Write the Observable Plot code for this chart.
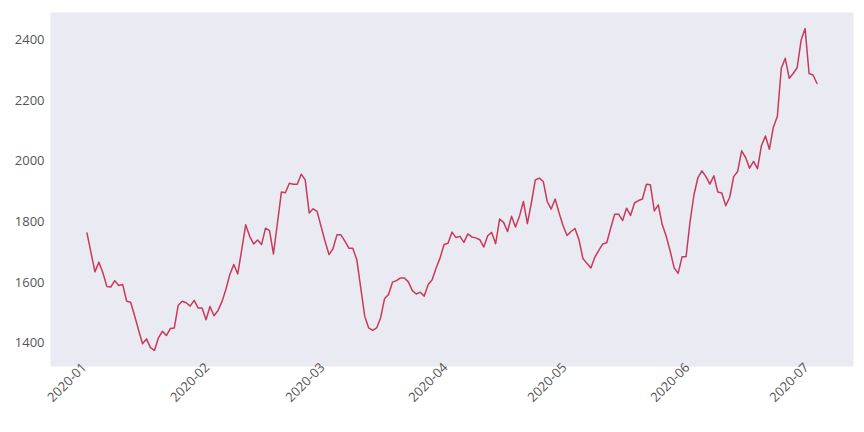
<!DOCTYPE html>
<html><head><meta charset="utf-8">
<script src="https://cdn.jsdelivr.net/npm/d3@7"></script>
<script src="https://cdn.jsdelivr.net/npm/@observablehq/plot@0.6"></script>
<style>body{margin:0;background:#fff;}</style>
</head><body><div id="chart"></div>
<script>
const startDate = "2020-01-06";
const values = [
1763,1699,1635,1667,1632,1587,1585,1606,1590,1593,
1538,1535,1490,1443,1398,1414,1385,1376,1417,1439,
1425,1448,1450,1525,1538,1533,1522,1541,1516,1516,
1477,1521,1490,1507,1536,1577,1626,1659,1628,1708,
1790,1752,1727,1740,1725,1779,1771,1694,1796,1898,
1896,1927,1924,1924,1957,1938,1829,1843,1834,1785,
1736,1692,1711,1757,1757,1736,1713,1713,1675,1582,
1489,1450,1442,1450,1483,1547,1560,1601,1606,1615,
1615,1602,1573,1562,1568,1555,1593,1609,1648,1681,
1725,1729,1766,1748,1752,1732,1760,1750,1747,1741,
1717,1754,1765,1728,1809,1798,1768,1818,1783,1818,
1867,1794,1862,1938,1944,1933,1867,1842,1875,1829,
1787,1755,1768,1778,1741,1679,1663,1648,1683,1706,
1727,1731,1779,1825,1825,1804,1845,1821,1862,1870,
1875,1924,1922,1836,1856,1790,1752,1703,1648,1630,
1685,1685,1800,1890,1946,1968,1949,1924,1952,1898,
1895,1853,1881,1949,1966,2034,2012,1977,1999,1975,
2051,2083,2039,2112,2147,2306,2339,2273,2289,2308,
2399,2437,2289,2284,2256
];
const yTicks = [1400, 1600, 1800, 2000, 2200, 2400];
const xTickDates = ["2020-01-01","2020-02-01","2020-03-01","2020-04-01","2020-05-01","2020-06-01","2020-07-01"];
const xTickLabels = ["2020-01","2020-02","2020-03","2020-04","2020-05","2020-06","2020-07"];

const DAY = 864e5;
const dates = values.map((_, i) => new Date(Date.parse(startDate) + i * DAY));
const data = dates.map((d, i) => ({date: d, value: values[i]}));
const [x0, x1] = d3.extent(dates);
const xm = (x1 - x0) * 0.05;
const [y0, y1] = d3.extent(values);
const ym = (y1 - y0) * 0.05;
const ticks = xTickDates.map((d, i) => ({date: new Date(d), label: xTickLabels[i]}));

const chart = Plot.plot({
  width: 864, height: 432,
  marginLeft: 50, marginRight: 11, marginTop: 12, marginBottom: 66,
  style: {fontFamily: "'Open Sans', sans-serif", fontSize: "13px", color: "#555", background: "#fff"},
  x: {type: "utc", domain: [new Date(+x0 - xm), new Date(+x1 + xm)], axis: null},
  y: {domain: [y0 - ym, y1 + ym], axis: null},
  marks: [
    Plot.frame({fill: "#eaeaf2", stroke: null}),
    Plot.line(data, {x: "date", y: "value", stroke: "#c73a5c", strokeWidth: 1.5}),
    Plot.axisY(yTicks, {tickSize: 0, tickPadding: 6, tickFormat: d => String(d), fill: "#555", label: null}),
    Plot.text(ticks, {x: "date", text: "label", frameAnchor: "bottom", dy: 16, rotate: -45,
      textAnchor: "middle", lineAnchor: "middle", fill: "#555"})
  ]
});
document.getElementById("chart").appendChild(chart);
</script>
</body></html>
